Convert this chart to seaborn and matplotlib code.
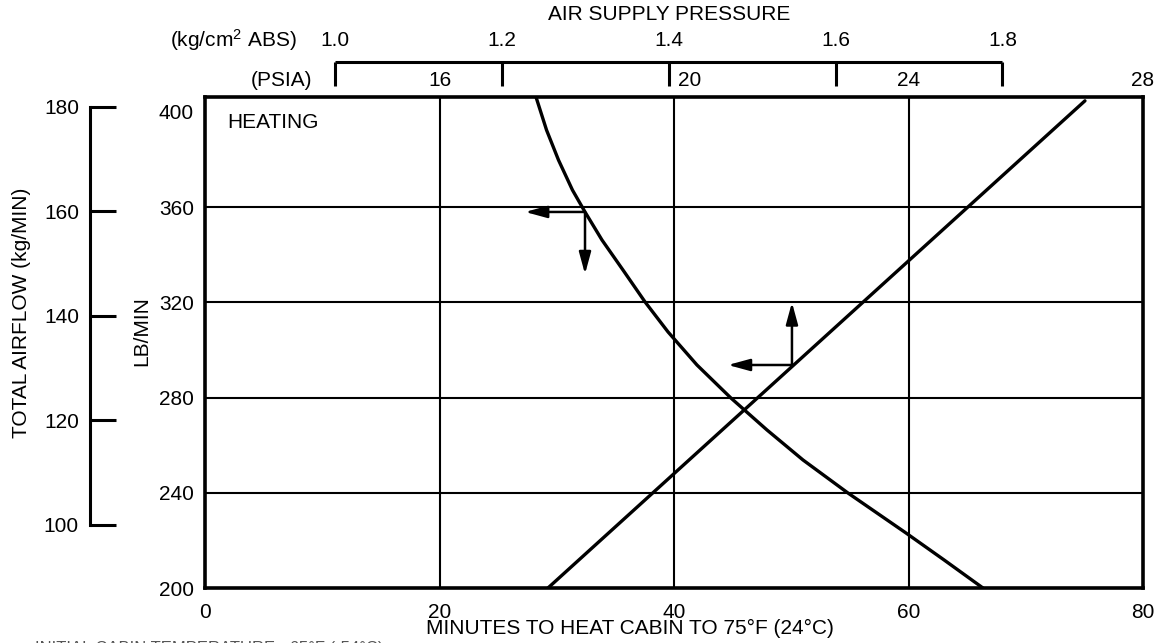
import matplotlib
matplotlib.use("Agg")
import matplotlib.pyplot as plt
import pandas as pd
import seaborn as sns

# Minutes to heat cabin vs. total airflow (lb/min)
heat_time_min = [28.23, 29.13, 30.15, 31.34, 32.41, 33.86, 35.65, 37.53, 39.49,
                 41.96, 44.86, 47.93, 51.00, 54.84, 59.79, 63.03, 66.35]
heat_airflow_lb = [406.3, 392.4, 379.8, 367.2, 358.0, 346.2, 333.6, 320.2, 307.6,
                   293.7, 279.8, 266.4, 253.8, 239.9, 223.1, 211.8, 200.0]

# Total airflow (lb/min) vs. air supply pressure (PSIA)
supply_psia = [17.85, 27.01]
supply_airflow_lb = [200.0, 404.7]

# Axis scales
time_ticks = [0, 20, 40, 60, 80]
lb_ticks = [200, 240, 280, 320, 360, 400]
kg_ticks = [100, 120, 140, 160, 180]
psia_ticks = [16, 20, 24, 28]
kgcm2_ticks = [1.0, 1.2, 1.4, 1.6, 1.8]

# Example reading paths (start point, then arrow tips)
ex1_start = (32.41, 358.0)
ex1_left = 27.3
ex1_down = 331.9
ex2_start = (50.06, 293.7)
ex2_up = 320.0
ex2_left = 44.6

PSI_PER_KGCM2 = 14.223


def psia_to_minutes(p):
    # the pressure scale shares the time axis: 16 PSIA over 20 min, 4 PSIA per 20 min
    return (p - 12.0) * 5.0


sns.set_theme(style="white")
plt.rcParams["font.family"] = ["Liberation Sans", "DejaVu Sans"]
plt.rcParams["mathtext.fontset"] = "custom"
plt.rcParams["mathtext.rm"] = "Liberation Sans"
plt.rcParams["mathtext.it"] = "Liberation Sans:italic"

W, H = 1157, 643
fig = plt.figure(figsize=(W / 100, H / 100), dpi=100)
fig.patch.set_facecolor("white")


def fx(px):
    return px / W


def fy(py):
    return 1 - py / H


FS = 15
ax = fig.add_axes([fx(205), fy(588), fx(1143) - fx(205), fy(97) - fy(588)])
ax.set_xlim(0, 80)
ax.set_ylim(200, 406.3)
ax.set_facecolor("white")

for v in time_ticks[1:-1]:
    ax.axvline(v, color="black", lw=1.5, zorder=1)
for h in lb_ticks[1:-1]:
    ax.axhline(h, color="black", lw=1.5, zorder=1)

heat_df = pd.DataFrame({"time": heat_time_min, "lb": heat_airflow_lb})
sns.lineplot(data=heat_df, x="time", y="lb", ax=ax, color="black", lw=2.4,
             sort=False, estimator=None, zorder=3)
supply_df = pd.DataFrame({"time": [psia_to_minutes(p) for p in supply_psia],
                          "lb": supply_airflow_lb})
sns.lineplot(data=supply_df, x="time", y="lb", ax=ax, color="black", lw=2.4,
             sort=False, estimator=None, zorder=3)
for ln in ax.get_lines():
    ln.set_solid_joinstyle("round")

arrow_kw = dict(arrowstyle="-|>,head_length=1.1,head_width=0.3", color="black",
                lw=1.8, mutation_scale=12, shrinkA=0, shrinkB=0)
ax.annotate("", xy=(ex1_left, ex1_start[1]), xytext=ex1_start, arrowprops=arrow_kw, zorder=4)
ax.annotate("", xy=(ex1_start[0], ex1_down), xytext=ex1_start, arrowprops=arrow_kw, zorder=4)
ax.annotate("", xy=(ex2_start[0], ex2_up), xytext=ex2_start, arrowprops=arrow_kw, zorder=4)
ax.annotate("", xy=(ex2_left, ex2_start[1]), xytext=ex2_start, arrowprops=arrow_kw, zorder=4)

ax.set_xticks(time_ticks)
ax.set_yticks(lb_ticks)
ax.set_xticklabels([str(t) for t in time_ticks])
ax.set_yticklabels([str(t) for t in lb_ticks])
ax.tick_params(axis="x", length=0, labelsize=FS, pad=11, colors="black")
ax.tick_params(axis="y", length=0, labelsize=FS, pad=8, colors="black")
ax.set_xlabel("")
ax.set_ylabel("")
for s in ax.spines.values():
    s.set_visible(True)
    s.set_color("black")
    s.set_linewidth(2.6)

ax.text(22 / 938, (588 - 122) / 491, "HEATING", transform=ax.transAxes,
        fontsize=FS, ha="left", va="center", color="black")

# kg/min airflow scale on the left
kax = fig.add_axes([fx(90), fy(588), fx(116) - fx(90), fy(97) - fy(588)])
kax.set_ylim(87.94, 181.91)
kax.patch.set_visible(False)
for name in ["top", "right", "bottom"]:
    kax.spines[name].set_visible(False)
kax.spines["left"].set_color("black")
kax.spines["left"].set_linewidth(2.2)
kax.spines["left"].set_bounds(kg_ticks[0], kg_ticks[-1])
kax.set_xticks([])
kax.set_yticks(kg_ticks)
kax.set_yticklabels([str(k) for k in kg_ticks])
kax.tick_params(axis="y", direction="in", length=18.5, width=2.2, colors="black",
                labelsize=FS, pad=8, left=True)

fig.text(fx(22), fy(313), "TOTAL AIRFLOW (kg/MIN)", rotation=90, ha="center",
         va="center", fontsize=FS, color="black")
fig.text(fx(142), fy(331), "LB/MIN", rotation=90, ha="center", va="center",
         fontsize=FS, color="black")
fig.text(fx(630), fy(628), "MINUTES TO HEAT CABIN TO 75°F (24°C)", ha="center",
         va="center", fontsize=FS, color="black")

# Air supply pressure scales above the chart
top = ax.get_xaxis_transform()
y_bar = (588 - 62) / 491
y_tick_end = (588 - 86) / 491
y_kg_lbl = (588 - 40) / 491
y_psi_lbl = (588 - 80) / 491
kg_x = [psia_to_minutes(k * PSI_PER_KGCM2) for k in kgcm2_ticks]
ax.plot([kg_x[0], kg_x[-1]], [y_bar, y_bar], transform=top, color="black",
        lw=2.2, clip_on=False, solid_capstyle="butt")
for xk, k in zip(kg_x, kgcm2_ticks):
    ax.plot([xk, xk], [y_bar, y_tick_end], transform=top, color="black", lw=2.2,
            clip_on=False, solid_capstyle="butt")
    ax.text(xk, y_kg_lbl, f"{k:.1f}", transform=top, ha="center", va="center",
            fontsize=FS, color="black")
for p in psia_ticks:
    xp = psia_to_minutes(p)
    dx = 11 if p == 20 else 0
    ax.annotate(str(p), xy=(xp, y_psi_lbl), xycoords=top, xytext=(dx, 0),
                textcoords="offset points", ha="center", va="center",
                fontsize=FS, color="black", annotation_clip=False)
fig.text(fx(297), fy(40), r"(kg/cm$^{2}$ ABS)", ha="right", va="center",
         fontsize=FS, color="black")
fig.text(fx(312), fy(80), "(PSIA)", ha="right", va="center", fontsize=FS,
         color="black")
fig.text(fx(669), fy(14), "AIR SUPPLY PRESSURE", ha="center", va="center",
         fontsize=FS, color="black")

fig.text(fx(35), fy(641), "INITIAL CABIN TEMPERATURE: -65°F (-54°C)", ha="left",
         va="top", fontsize=12, color="#555555")

fig.savefig("out.png", dpi=100, facecolor="white")
